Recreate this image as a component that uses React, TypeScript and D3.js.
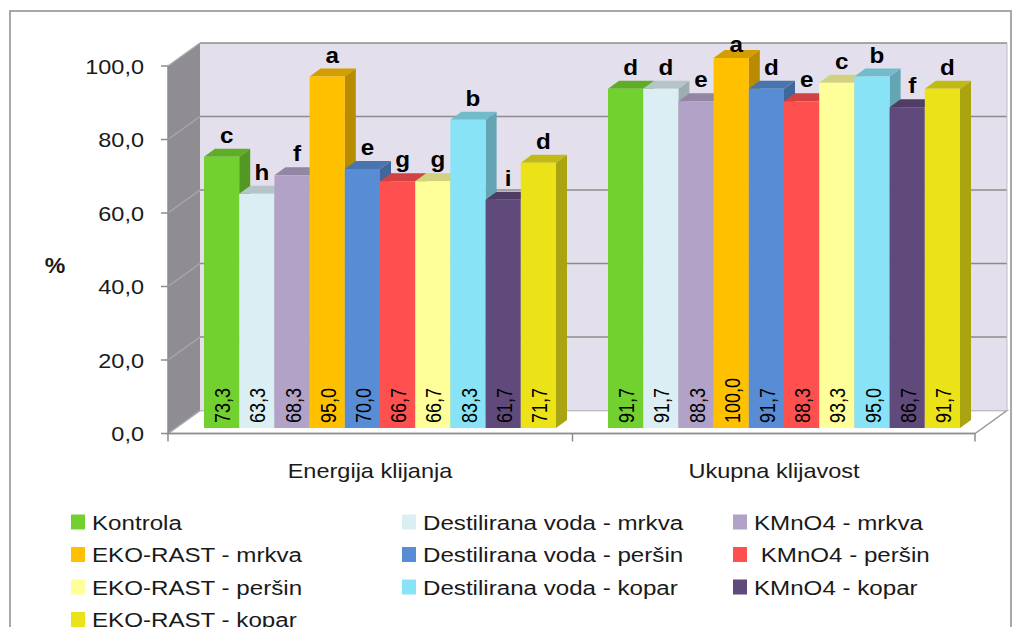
import React, { useEffect, useRef } from 'react';
import * as d3 from 'd3';

// chart data
const categories = ['Energija klijanja', 'Ukupna klijavost'];
const seriesNames = [
  'Kontrola',
  'Destilirana voda - mrkva',
  'KMnO4 - mrkva',
  'EKO-RAST - mrkva',
  'Destilirana voda - peršin',
  ' KMnO4 - peršin',
  'EKO-RAST - peršin',
  'Destilirana voda - kopar',
  'KMnO4 - kopar',
  'EKO-RAST - kopar',
];
const seriesColors = [
  '#73d12f', '#dbeef4', '#b3a2c7', '#ffc000', '#588dd5',
  '#ff5050', '#ffff99', '#89e3f7', '#604a7b', '#ece218',
];
const energyValues = [73.3, 63.3, 68.3, 95.0, 70.0, 66.7, 66.7, 83.3, 61.7, 71.7];
const totalValues = [91.7, 91.7, 88.3, 100.0, 91.7, 88.3, 93.3, 95.0, 86.7, 91.7];
const energyLetters = ['c', 'h', 'f', 'a', 'e', 'g', 'g', 'b', 'i', 'd'];
const totalLetters = ['d', 'd', 'e', 'a', 'd', 'e', 'c', 'b', 'f', 'd'];
const yTicks = [0, 20, 40, 60, 80, 100];

const W = 1024;
const H = 627;
const FONT = '"Liberation Sans", Arial, sans-serif';

const fmt = (v: number) => d3.format('.1f')(v).replace('.', ',');

const App = () => {
  const ref = useRef<SVGSVGElement | null>(null);

  useEffect(() => {
    if (!ref.current) return;
    const svg = d3.select(ref.current);
    svg.selectAll('*').remove();

    const values = [energyValues, totalValues];
    const letters = [energyLetters, totalLetters];

    // text stretched a bit wider, like the source picture
    const label = (
      parent: d3.Selection<SVGGElement, unknown, null, undefined> | d3.Selection<SVGSVGElement, unknown, null, undefined>,
      x: number, y: number, txt: string, size: number, anchor: string, sx = 1.12, bold = false,
    ) => {
      (parent as any).append('text')
        .attr('transform', `translate(${x},${y}) scale(${sx},1)`)
        .attr('text-anchor', anchor)
        .attr('font-family', FONT).attr('font-size', size)
        .attr('font-weight', bold ? 'bold' : 'normal')
        .attr('fill', '#1a1a1a')
        .style('white-space', 'pre')
        .text(txt);
    };

    // 3D geometry: front axis plane, back wall plane, bar face plane
    const depthX = 32;
    const depthY = 23;
    const x0 = 168;
    const x1 = 975;
    const yAxis = d3.scaleLinear().domain([0, 100]).range([433.5, 66]);
    const yBack = (v: number) => yAxis(v) - depthY;
    const yBar = d3.scaleLinear().domain([0, 100]).range([428, 58]);

    const group = d3.scaleBand<string>().domain(categories).range([178, 986]);
    const inner = d3.scaleBand<string>().domain(seriesNames).range([0, 352]);
    const bw = inner.bandwidth();
    const sideX = 11;
    const sideY = 8;
    const pts = (p: number[][]) => p.map(q => q.join(',')).join(' ');

    // outer frame
    svg.append('rect')
      .attr('x', 10).attr('y', 11).attr('width', 1001).attr('height', 640)
      .attr('fill', '#fff').attr('stroke', '#8c8c8c').attr('stroke-width', 1.5);

    // floor
    svg.append('polygon')
      .attr('points', pts([[x0, yAxis(0)], [x0 + depthX, yBack(0)], [x1 + depthX, yBack(0)], [x1, yAxis(0)]]))
      .attr('fill', '#fff').attr('stroke', '#9a9a9a').attr('stroke-width', 1.5);

    // left side wall
    svg.append('polygon')
      .attr('points', pts([[x0, yAxis(0)], [x0, yAxis(100)], [x0 + depthX, yBack(100)], [x0 + depthX, yBack(0)]]))
      .attr('fill', '#8f8d92');

    // back wall
    svg.append('rect')
      .attr('x', x0 + depthX).attr('y', yBack(100))
      .attr('width', x1 - x0).attr('height', yBack(0) - yBack(100))
      .attr('fill', '#e4dfec');

    // gridlines
    const grid = svg.append('g');
    yTicks.forEach(t => {
      grid.append('line')
        .attr('x1', x0).attr('y1', yAxis(t)).attr('x2', x0 + depthX).attr('y2', yBack(t))
        .attr('stroke', '#a9a7ac').attr('stroke-width', 1.5);
      if (t > 0) {
        grid.append('line')
          .attr('x1', x0 + depthX).attr('y1', yBack(t)).attr('x2', x1 + depthX).attr('y2', yBack(t))
          .attr('stroke', '#8c8c8c').attr('stroke-width', 1.5);
      }
    });
    grid.append('line')
      .attr('x1', x1 + depthX).attr('y1', yBack(100)).attr('x2', x1 + depthX).attr('y2', yBack(0))
      .attr('stroke', '#bdbdbd');

    // y axis
    const yg = svg.append('g');
    yg.append('line')
      .attr('x1', x0).attr('x2', x0).attr('y1', yAxis(0)).attr('y2', yAxis(100))
      .attr('stroke', '#8c8c8c').attr('stroke-width', 1.5);
    yTicks.forEach(t => {
      yg.append('line')
        .attr('x1', x0 - 7).attr('x2', x0).attr('y1', yAxis(t)).attr('y2', yAxis(t))
        .attr('stroke', '#8c8c8c').attr('stroke-width', 1.5);
      label(yg, 144, yAxis(t) + 7.5, fmt(t), 21, 'end', 1.12);
    });

    // x axis
    const xg = svg.append('g');
    xg.append('line')
      .attr('x1', x0).attr('x2', x1).attr('y1', yAxis(0)).attr('y2', yAxis(0))
      .attr('stroke', '#8c8c8c').attr('stroke-width', 1.5);
    [x0, (x0 + x1) / 2 + 1, x1].forEach(tx => {
      xg.append('line')
        .attr('x1', tx).attr('x2', tx).attr('y1', yAxis(0)).attr('y2', yAxis(0) + 8)
        .attr('stroke', '#8c8c8c').attr('stroke-width', 1.5);
    });
    categories.forEach(c => {
      label(xg, (group(c) ?? 0) + group.bandwidth() / 2 - 10, 478, c, 21, 'middle', 1.12);
    });

    // % label
    label(svg, 55, 273, '%', 22, 'middle', 1.05, true);

    // bars
    const bars = svg.append('g');
    categories.forEach((c, ci) => {
      const gx = (group(c) ?? 0) + (group.bandwidth() - 352) / 2;
      seriesNames.forEach((s, si) => {
        const v = values[ci][si];
        const col = d3.color(seriesColors[si])!;
        const bx = gx + (inner(s) ?? 0);
        const top = yBar(v);
        const base = yBar(0);
        // side face
        bars.append('polygon')
          .attr('points', pts([[bx + bw, top], [bx + bw + sideX, top - sideY], [bx + bw + sideX, base - sideY], [bx + bw, base]]))
          .attr('fill', col.darker(0.9).formatHex());
        // top face
        bars.append('polygon')
          .attr('points', pts([[bx, top], [bx + sideX, top - sideY], [bx + bw + sideX, top - sideY], [bx + bw, top]]))
          .attr('fill', col.darker(0.55).formatHex());
        // front face
        bars.append('rect')
          .attr('x', bx).attr('y', top).attr('width', bw).attr('height', base - top)
          .attr('fill', seriesColors[si]);
        // value label, rotated, at the bottom
        bars.append('text')
          .attr('transform', `translate(${bx + bw / 2 + 1},${base - 5}) rotate(-90) scale(1,1.2)`)
          .attr('dy', '0.35em')
          .attr('font-family', FONT).attr('font-size', 18).attr('fill', '#000')
          .text(fmt(v));
        // significance letter
        bars.append('text')
          .attr('transform', `translate(${bx + bw / 2 + 5},${Math.max(top - sideY - 6, 52)}) scale(1.1,1)`)
          .attr('text-anchor', 'middle')
          .attr('font-family', FONT).attr('font-size', 22).attr('font-weight', 'bold').attr('fill', '#000')
          .text(letters[ci][si]);
      });
    });

    // legend
    const legend = svg.append('g');
    const colX = [71, 402, 733];
    seriesNames.forEach((s, i) => {
      const lx = colX[i % 3];
      const ly = 522 + Math.floor(i / 3) * 32.5;
      legend.append('rect')
        .attr('x', lx).attr('y', ly - 7.5).attr('width', 14).attr('height', 15)
        .attr('fill', seriesColors[i]);
      label(legend, lx + 21, ly + 7.5, s, 21, 'start', 1.15);
    });
  }, []);

  return (
    <svg
      ref={ref}
      width={W}
      height={H}
      style={{ position: 'absolute', left: 0, top: 0, background: '#fff' }}
    />
  );
};

export default App;
